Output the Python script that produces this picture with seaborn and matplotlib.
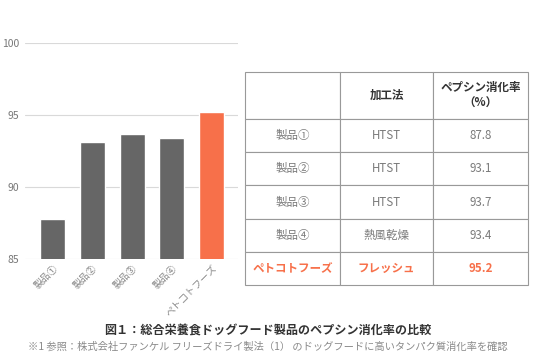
import pandas as pd
import matplotlib
matplotlib.use('Agg')
import matplotlib.pyplot as plt
import seaborn as sns

products = ['製品①', '製品②', '製品③', '製品④', 'ペトコトフーズ']
methods = ['HTST', 'HTST', 'HTST', '熱風乾燥', 'フレッシュ']
rates = [87.8, 93.1, 93.7, 93.4, 95.2]
yticks = [85, 90, 95, 100]

gray = '#666666'
orange = '#F7704A'
text_gray = '#7a7a7a'

sns.set_style('white')
plt.rcParams['font.family'] = ['Noto Sans CJK JP', 'DejaVu Sans']

df = pd.DataFrame({'product': products, 'method': methods, 'rate': rates})

fig = plt.figure(figsize=(5.36, 3.57), dpi=100)

# bar chart
ax = fig.add_axes([25 / 536, 1 - 259 / 357, 213 / 536, 216 / 357])
palette = {p: (orange if p == 'ペトコトフーズ' else gray) for p in products}
sns.barplot(data=df, x='product', y='rate', hue='product', palette=palette,
            width=0.63, saturation=1, legend=False, ax=ax, zorder=3)
ax.set_ylim(85, 100)
ax.set_xlim(-0.7, 4.67)
ax.set_yticks(yticks)
ax.yaxis.grid(True, color='#d9d9d9', linewidth=0.8, zorder=0)
ax.set_axisbelow(True)
for s in ax.spines.values():
    s.set_visible(False)
ax.set_xlabel('')
ax.set_ylabel('')
ax.tick_params(axis='y', length=0, labelsize=7.5, labelcolor='#777777', pad=4)
ax.tick_params(axis='x', length=0, labelsize=7, labelcolor='#888888', pad=3)
plt.setp(ax.get_xticklabels(), rotation=45, ha='right', rotation_mode='anchor')

# table
tax = fig.add_axes([245 / 536, 1 - 285 / 357, 283 / 536, 213 / 357])
tax.axis('off')
cell_text = [['', '加工法', 'ペプシン消化率\n（%）']]
for p, m, r in zip(products, methods, rates):
    cell_text.append([p, m, f'{r:.1f}'])
header_h = 47 / 213
row_h = (1 - header_h) / len(products)
tbl = tax.table(cellText=cell_text, cellLoc='center', bbox=[0, 0, 1, 1],
                colWidths=[95 / 283, 93 / 283, 95 / 283])
tbl.auto_set_font_size(False)
for (r, c), cell in tbl.get_celld().items():
    cell.set_edgecolor('#999999')
    cell.set_linewidth(0.8)
    cell.set_height(header_h if r == 0 else row_h)
    t = cell.get_text()
    t.set_fontsize(8.3)
    if r == 0:
        t.set_fontweight('bold')
        t.set_color('#333333')
        t.set_linespacing(1.3)
    elif r == len(products):
        t.set_fontweight('bold')
        t.set_color(orange)
    else:
        t.set_color(text_gray)

fig.text(0.5, 1 - 331 / 357, '図１：総合栄養食ドッグフード製品のペプシン消化率の比較',
         ha='center', va='center', fontsize=8.7, fontweight='bold', color='#333333')
fig.text(0.5, 1 - 347 / 357,
         '※1 参照：株式会社ファンケル フリーズドライ製法（1） のドッグフードに高いタンパク質消化率を確認',
         ha='center', va='center', fontsize=7.4, color='#8a8a8a')

fig.savefig('out.png', dpi=100)
